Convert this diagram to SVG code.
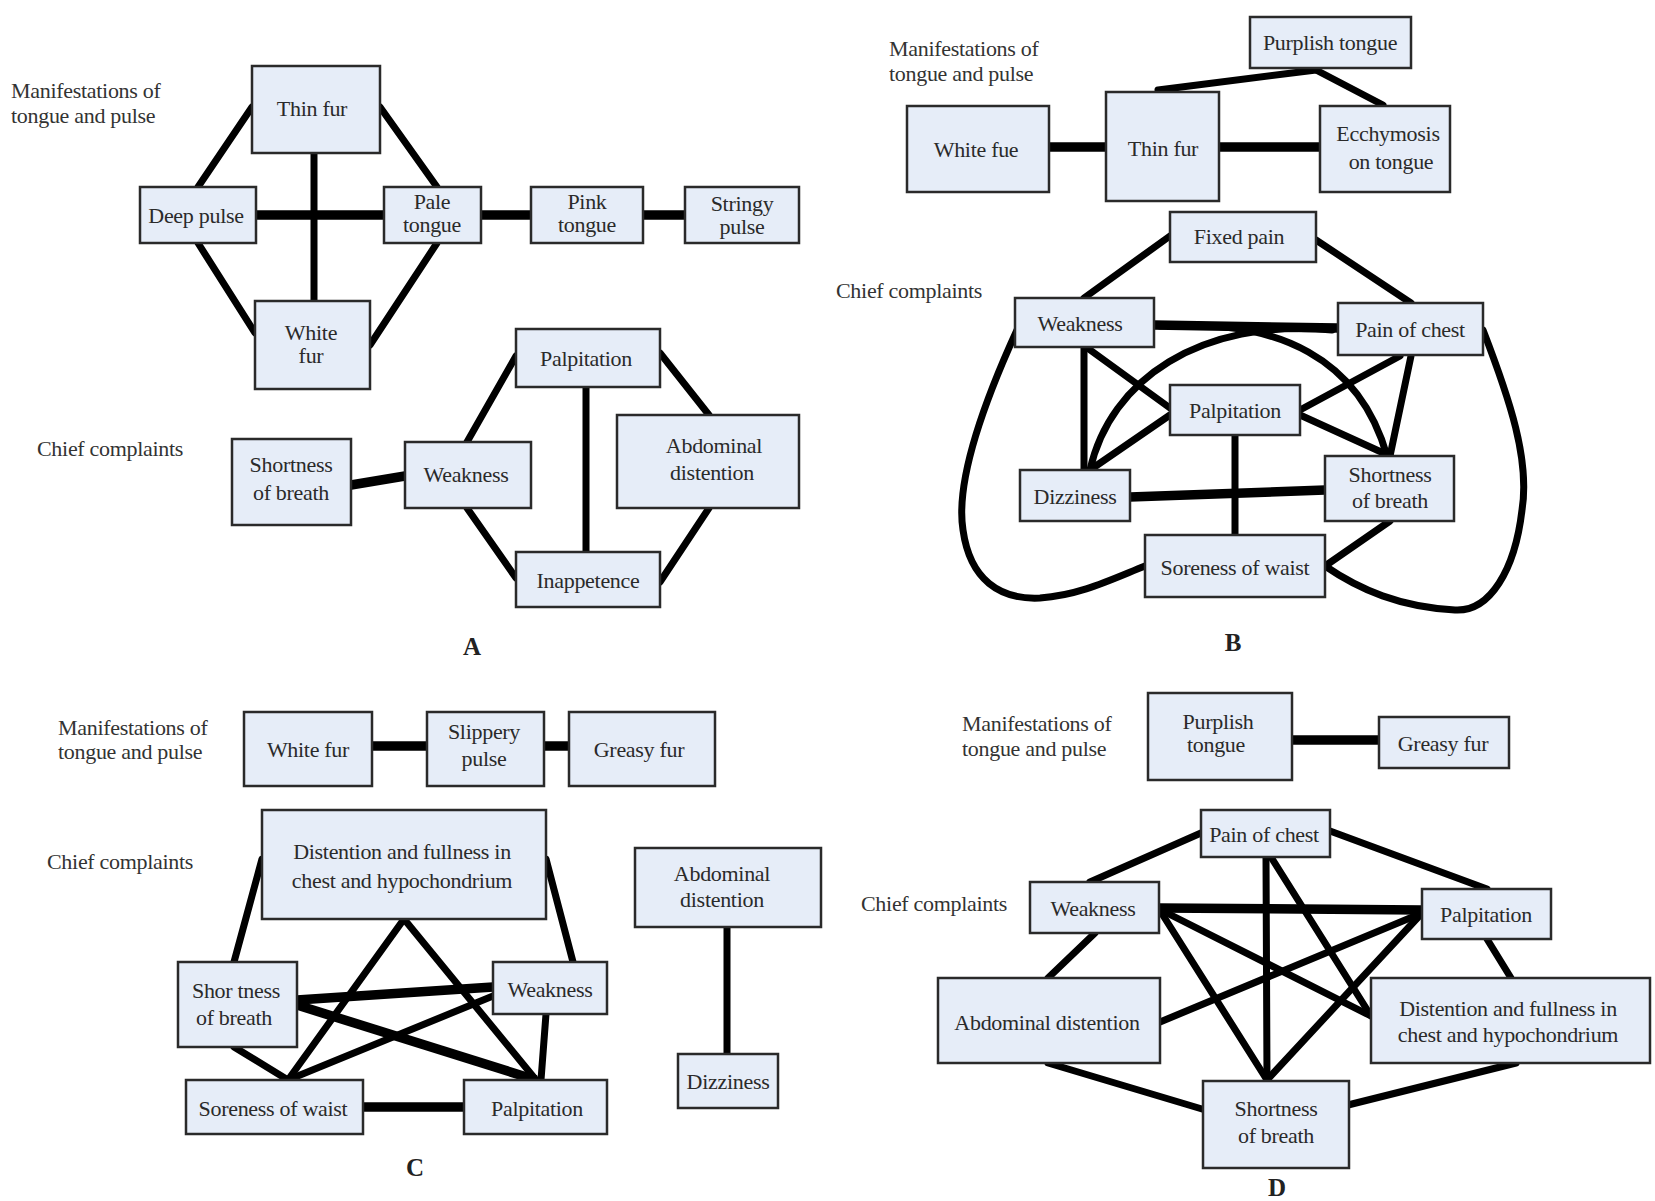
<svg xmlns="http://www.w3.org/2000/svg" width="1655" height="1201" viewBox="0 0 1655 1201">
<style>
.bx{fill:#e6edf8;stroke:#2a2a2a;stroke-width:2.5}
.tx{font-family:"Liberation Serif","Times New Roman",serif;font-size:22px;fill:#2a2a2a;text-anchor:middle;dominant-baseline:central;letter-spacing:-0.3px}
.lb{font-family:"Liberation Serif","Times New Roman",serif;font-size:22px;fill:#333;letter-spacing:-0.3px;dominant-baseline:central}
.pl{font-family:"Liberation Serif","Times New Roman",serif;font-size:25px;font-weight:bold;fill:#222;text-anchor:middle;dominant-baseline:central}
.e{fill:none;stroke:#000;stroke-width:7;stroke-linecap:round}
.t{fill:none;stroke:#000;stroke-width:9.5;stroke-linecap:butt}
</style>
<rect width="1655" height="1201" fill="#fff"/>

<g id="connectors">
<path class="e" d="M252,107 L198,187"/>
<path class="e" d="M380,107 L437,187"/>
<path class="e" d="M198,243 L255,333"/>
<path class="e" d="M437,243 L370,345"/>
<path class="e" d="M314,153 L314,301"/>
<path class="t" d="M256,215 L384,215"/>
<path class="t" d="M481,215 L531,215"/>
<path class="t" d="M643,215 L685,215"/>
<path class="t" d="M351,485 L405,476"/>
<path class="e" d="M467,442 L516,356"/>
<path class="e" d="M467,508 L516,578"/>
<path class="e" d="M586,387 L586,552"/>
<path class="e" d="M660,353 L709,415"/>
<path class="e" d="M709,508 L660,582"/>
<path class="t" d="M1049,147 L1106,147"/>
<path class="t" d="M1219,147 L1320,147"/>
<path class="e" d="M1158,90 L1316,70"/>
<path class="e" d="M1316,70 L1383,105"/>
<path class="e" d="M1170,236 L1084,298"/>
<path class="e" d="M1316,240 L1411,303"/>
<path class="t" d="M1154,325 L1338,328"/>
<path class="e" d="M1084,347 L1084,470"/>
<path class="e" d="M1086,347 L1170,408"/>
<path class="e" d="M1160,326 C1280,318 1360,360 1387,456"/>
<path class="e" d="M1332,330 C1200,318 1110,380 1090,470"/>
<path class="e" d="M1400,356 L1300,410"/>
<path class="e" d="M1411,356 L1390,456"/>
<path class="e" d="M1170,415 L1090,470"/>
<path class="e" d="M1300,415 L1390,456"/>
<path class="t" d="M1130,497 L1325,490"/>
<path class="e" d="M1235,435 L1235,535"/>
<path class="e" d="M1390,521 L1325,566"/>
<path class="e" d="M1017,330 C985,400 955,480 963,530 C970,580 1000,600 1040,598 C1080,595 1110,580 1145,566"/>
<path class="e" d="M1483,330 C1510,400 1530,460 1522,510 C1515,570 1490,612 1455,610 C1400,607 1360,590 1325,566"/>
<path class="t" d="M372,746 L427,746"/>
<path class="t" d="M544,746 L569,746"/>
<path class="e" d="M262,859 L234,962"/>
<path class="e" d="M546,859 L573,962"/>
<path class="e" d="M404,919 L288,1080"/>
<path class="e" d="M404,919 L536,1080"/>
<path class="t" d="M297,1000 L493,987"/>
<path class="t" d="M297,1005 L536,1080"/>
<path class="e" d="M493,996 L288,1080"/>
<path class="e" d="M546,1014 L541,1080"/>
<path class="e" d="M234,1047 L288,1080"/>
<path class="t" d="M363,1107 L464,1107"/>
<path class="e" d="M727,927 L727,1054"/>
<path class="t" d="M1292,740 L1379,740"/>
<path class="e" d="M1201,833 L1090,882"/>
<path class="e" d="M1330,831 L1487,889"/>
<path class="e" d="M1266,857 L1267,1080"/>
<path class="e" d="M1271,857 L1371,1016"/>
<path class="t" d="M1159,908 L1422,910"/>
<path class="e" d="M1095,933 L1048,978"/>
<path class="e" d="M1159,909 L1267,1080"/>
<path class="e" d="M1159,909 L1371,1016"/>
<path class="e" d="M1422,913 L1160,1022"/>
<path class="e" d="M1422,913 L1267,1080"/>
<path class="e" d="M1487,939 L1511,978"/>
<path class="e" d="M1048,1063 L1202,1109"/>
<path class="e" d="M1516,1063 L1348,1105"/>
</g>

<g id="labelsA">
<text class="lb" x="11" y="90">Manifestations of</text>
<text class="lb" x="11" y="115">tongue and pulse</text>
<text class="lb" x="37" y="448">Chief  complaints</text>
<text class="pl" x="472" y="646">A</text>
</g>
<g id="A-thinfur"><rect class="bx" x="252" y="66" width="128" height="87"/><text class="tx" x="312" y="108">Thin fur</text></g>
<g id="A-deeppulse"><rect class="bx" x="140" y="187" width="116" height="56"/><text class="tx" x="196" y="215">Deep pulse</text></g>
<g id="A-paletongue"><rect class="bx" x="384" y="187" width="97" height="56"/><text class="tx" x="432" y="201">Pale</text><text class="tx" x="432" y="224">tongue</text></g>
<g id="A-pinktongue"><rect class="bx" x="531" y="187" width="112" height="56"/><text class="tx" x="587" y="201">Pink</text><text class="tx" x="587" y="224">tongue</text></g>
<g id="A-stringypulse"><rect class="bx" x="685" y="187" width="114" height="56"/><text class="tx" x="742" y="203">Stringy</text><text class="tx" x="742" y="226">pulse</text></g>
<g id="A-whitefur"><rect class="bx" x="255" y="301" width="115" height="88"/><text class="tx" x="311" y="332">White</text><text class="tx" x="311" y="355">fur</text></g>
<g id="A-palpitation"><rect class="bx" x="516" y="329" width="144" height="58"/><text class="tx" x="586" y="358">Palpitation</text></g>
<g id="A-abdominal"><rect class="bx" x="617" y="415" width="182" height="93"/><text class="tx" x="714" y="445">Abdominal</text><text class="tx" x="712" y="472">distention</text></g>
<g id="A-weakness"><rect class="bx" x="405" y="442" width="126" height="66"/><text class="tx" x="466" y="474">Weakness</text></g>
<g id="A-shortness"><rect class="bx" x="232" y="439" width="119" height="86"/><text class="tx" x="291" y="464">Shortness</text><text class="tx" x="291" y="492">of breath</text></g>
<g id="A-inappetence"><rect class="bx" x="516" y="552" width="144" height="55"/><text class="tx" x="588" y="580">Inappetence</text></g>

<g id="labelsB">
<text class="lb" x="889" y="48">Manifestations of</text>
<text class="lb" x="889" y="73">tongue and pulse</text>
<text class="lb" x="836" y="290">Chief  complaints</text>
<text class="pl" x="1233" y="642">B</text>
</g>
<g id="B-purplish"><rect class="bx" x="1250" y="17" width="161" height="51"/><text class="tx" x="1330" y="42">Purplish tongue</text></g>
<g id="B-whitefue"><rect class="bx" x="907" y="106" width="142" height="86"/><text class="tx" x="976" y="149">White fue</text></g>
<g id="B-thinfur"><rect class="bx" x="1106" y="92" width="113" height="109"/><text class="tx" x="1163" y="148">Thin fur</text></g>
<g id="B-ecchymosis"><rect class="bx" x="1320" y="106" width="130" height="86"/><text class="tx" x="1388" y="133">Ecchymosis</text><text class="tx" x="1391" y="161">on tongue</text></g>
<g id="B-fixedpain"><rect class="bx" x="1170" y="212" width="146" height="50"/><text class="tx" x="1239" y="236">Fixed pain</text></g>
<g id="B-weakness"><rect class="bx" x="1015" y="298" width="139" height="49"/><text class="tx" x="1080" y="323">Weakness</text></g>
<g id="B-painchest"><rect class="bx" x="1338" y="303" width="145" height="52"/><text class="tx" x="1410" y="329">Pain of chest</text></g>
<g id="B-palpitation"><rect class="bx" x="1170" y="385" width="130" height="50"/><text class="tx" x="1235" y="410">Palpitation</text></g>
<g id="B-dizziness"><rect class="bx" x="1020" y="470" width="110" height="51"/><text class="tx" x="1075" y="496">Dizziness</text></g>
<g id="B-shortness"><rect class="bx" x="1325" y="456" width="129" height="65"/><text class="tx" x="1390" y="474">Shortness</text><text class="tx" x="1390" y="500">of  breath</text></g>
<g id="B-soreness"><rect class="bx" x="1145" y="535" width="180" height="62"/><text class="tx" x="1235" y="567">Soreness of waist</text></g>

<g id="labelsC">
<text class="lb" x="58" y="727">Manifestations of</text>
<text class="lb" x="58" y="751">tongue and pulse</text>
<text class="lb" x="47" y="861">Chief  complaints</text>
<text class="pl" x="415" y="1167">C</text>
</g>
<g id="C-whitefur"><rect class="bx" x="244" y="712" width="128" height="74"/><text class="tx" x="308" y="749">White fur</text></g>
<g id="C-slippery"><rect class="bx" x="427" y="712" width="117" height="74"/><text class="tx" x="484" y="731">Slippery</text><text class="tx" x="484" y="758">pulse</text></g>
<g id="C-greasy"><rect class="bx" x="569" y="712" width="146" height="74"/><text class="tx" x="639" y="749">Greasy fur</text></g>
<g id="C-distention"><rect class="bx" x="262" y="810" width="284" height="109"/><text class="tx" x="402" y="851">Distention and fullness in</text><text class="tx" x="402" y="880">chest  and hypochondrium</text></g>
<g id="C-abdominal"><rect class="bx" x="635" y="848" width="186" height="79"/><text class="tx" x="722" y="873">Abdominal</text><text class="tx" x="722" y="899">distention</text></g>
<g id="C-shortness"><rect class="bx" x="178" y="962" width="119" height="85"/><text class="tx" x="236" y="990">Shor tness</text><text class="tx" x="234" y="1017">of breath</text></g>
<g id="C-weakness"><rect class="bx" x="493" y="962" width="114" height="52"/><text class="tx" x="550" y="989">Weakness</text></g>
<g id="C-soreness"><rect class="bx" x="186" y="1080" width="177" height="54"/><text class="tx" x="273" y="1108">Soreness of waist</text></g>
<g id="C-palpitation"><rect class="bx" x="464" y="1080" width="143" height="54"/><text class="tx" x="537" y="1108">Palpitation</text></g>
<g id="C-dizziness"><rect class="bx" x="678" y="1054" width="100" height="54"/><text class="tx" x="728" y="1081">Dizziness</text></g>

<g id="labelsD">
<text class="lb" x="962" y="723">Manifestations of</text>
<text class="lb" x="962" y="748">tongue and pulse</text>
<text class="lb" x="861" y="903">Chief complaints</text>
<text class="pl" x="1277" y="1187">D</text>
</g>
<g id="D-purplish"><rect class="bx" x="1148" y="693" width="144" height="87"/><text class="tx" x="1218" y="721">Purplish</text><text class="tx" x="1216" y="744">tongue</text></g>
<g id="D-greasy"><rect class="bx" x="1379" y="717" width="130" height="51"/><text class="tx" x="1443" y="743">Greasy fur</text></g>
<g id="D-painchest"><rect class="bx" x="1201" y="810" width="129" height="47"/><text class="tx" x="1264" y="834">Pain of chest</text></g>
<g id="D-weakness"><rect class="bx" x="1030" y="882" width="129" height="51"/><text class="tx" x="1093" y="908">Weakness</text></g>
<g id="D-palpitation"><rect class="bx" x="1422" y="889" width="129" height="50"/><text class="tx" x="1486" y="914">Palpitation</text></g>
<g id="D-abdominal"><rect class="bx" x="938" y="978" width="222" height="85"/><text class="tx" x="1047" y="1022">Abdominal distention</text></g>
<g id="D-distention"><rect class="bx" x="1371" y="978" width="279" height="85"/><text class="tx" x="1508" y="1008">Distention and fullness in</text><text class="tx" x="1508" y="1034">chest  and hypochondrium</text></g>
<g id="D-shortness"><rect class="bx" x="1203" y="1081" width="146" height="87"/><text class="tx" x="1276" y="1108">Shortness</text><text class="tx" x="1276" y="1135">of  breath</text></g>
</svg>
